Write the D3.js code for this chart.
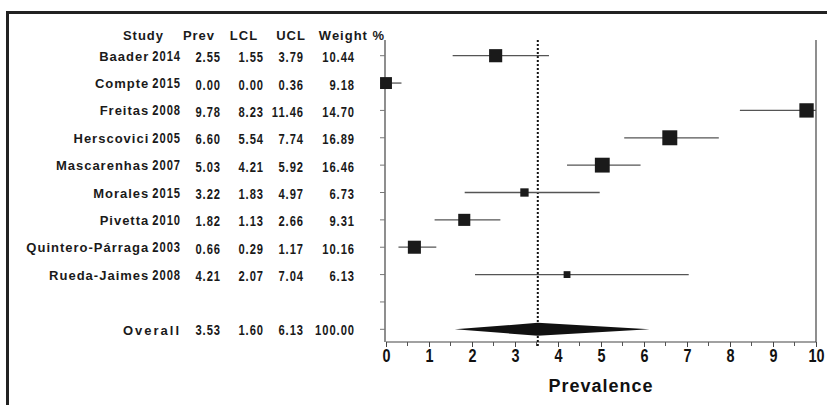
<!DOCTYPE html>
<html>
<head>
<meta charset="utf-8">
<script src="https://cdn.jsdelivr.net/npm/d3@7"></script>
<style>
  body { margin: 0; background: #fff; }
  svg { display: block; }
  .wide { font-family: "Liberation Sans", Arial, sans-serif; font-weight: bold; font-size: 13px; letter-spacing: 1px; fill: #1a1a1a; }
  .narrow { font-family: "Liberation Sans", Arial, sans-serif; font-weight: bold; font-size: 14px; letter-spacing: 1.2px; fill: #1a1a1a; }
</style>
</head>
<body>
<svg id="chart" width="827" height="405"></svg>
<script>
// study table
var studies = ['Baader', 'Compte', 'Freitas', 'Herscovici', 'Mascarenhas', 'Morales', 'Pivetta', 'Quintero-Párraga', 'Rueda-Jaimes'];
var years = ['2014', '2015', '2008', '2005', '2007', '2015', '2010', '2003', '2008'];
var prev = [2.55, 0.00, 9.78, 6.60, 5.03, 3.22, 1.82, 0.66, 4.21];
var lcl = [1.55, 0.00, 8.23, 5.54, 4.21, 1.83, 1.13, 0.29, 2.07];
var ucl = [3.79, 0.36, 11.46, 7.74, 5.92, 4.97, 2.66, 1.17, 7.04];
var weight = [10.44, 9.18, 14.70, 16.89, 16.46, 6.73, 9.31, 10.16, 6.13];
// pooled estimate
var overall = {prev: 3.53, lcl: 1.60, ucl: 6.13, weight: 100.00};
var headers = ['Study', 'Prev', 'LCL', 'UCL', 'Weight %'];
var xTicks = [0, 1, 2, 3, 4, 5, 6, 7, 8, 9, 10];
var xMinorTicks = [0.5, 1.5, 2.5, 3.5, 4.5, 5.5, 6.5, 7.5, 8.5, 9.5];

var svg = d3.select('#chart');
var squeeze = 0.8; // condensed look for the numbers

// outer frame (only top and left are visible)
svg.append('line').attr('x1', 7.5).attr('x2', 827).attr('y1', 12.5).attr('y2', 12.5)
  .style('stroke', '#222').style('stroke-width', 3);
svg.append('line').attr('x1', 7.5).attr('x2', 7.5).attr('y1', 11).attr('y2', 405)
  .style('stroke', '#222').style('stroke-width', 3);

var x = d3.scaleLinear().domain([0, 10]).range([386, 816]);
// 9 studies, one blank row, overall
var rows = d3.range(11);
var y = d3.scalePoint().domain(rows).range([55.7, 329.3]);
var side = d3.scaleLinear().domain([6, 7, 10, 17]).range([6.5, 9, 13, 15]);

var top_y = 40, axis_y = 342;

// plot frame: left axis, right line, bottom axis
svg.append('line').attr('x1', 385).attr('x2', 385).attr('y1', top_y).attr('y2', axis_y)
  .style('stroke', '#444').style('stroke-width', 1.2);
svg.append('line').attr('x1', 816).attr('x2', 816).attr('y1', top_y).attr('y2', axis_y)
  .style('stroke', '#444').style('stroke-width', 1.2);

svg.selectAll('.rowtick').data(rows).enter().append('line').attr('class', 'rowtick')
  .attr('x1', 380).attr('x2', 385)
  .attr('y1', d => y(d)).attr('y2', d => y(d))
  .style('stroke', '#777').style('stroke-width', 1);

var xAxis = svg.append('g').attr('transform', 'translate(0,' + axis_y + ')')
  .call(d3.axisBottom(x).tickValues(xTicks).tickSize(5).tickFormat(d3.format('d')));
xAxis.attr('font-family', null).attr('font-size', null);
xAxis.select('.domain').attr('d', 'M' + x(0) + ',0H' + x(10)).style('stroke', '#444').style('stroke-width', 1.2);
xAxis.selectAll('.tick line').style('stroke', '#444');
xAxis.selectAll('.tick text').attr('class', 'narrow').attr('dy', null).attr('y', 20.5)
  .attr('transform', 'scale(' + squeeze + ',1)')
  .style('font-size', '18px').style('letter-spacing', '0px').style('fill', '#111');

svg.selectAll('.minor').data(xMinorTicks).enter().append('line').attr('class', 'minor')
  .attr('x1', d => x(d)).attr('x2', d => x(d))
  .attr('y1', axis_y).attr('y2', axis_y + 4)
  .style('stroke', '#555').style('stroke-width', 1);

svg.append('text').attr('class', 'wide')
  .attr('x', (x(0) + x(10)) / 2).attr('y', 392)
  .attr('text-anchor', 'middle')
  .style('font-size', '18px').style('letter-spacing', '1px').style('fill', '#111')
  .text('Prevalence');

// dotted line at pooled estimate
svg.append('line')
  .attr('x1', x(overall.prev)).attr('x2', x(overall.prev))
  .attr('y1', top_y).attr('y2', axis_y + 5)
  .style('stroke', '#111').style('stroke-width', 2).style('stroke-dasharray', '2,2');

// confidence intervals
svg.selectAll('.ci').data(prev).enter().append('line').attr('class', 'ci')
  .attr('x1', (d, i) => x(Math.max(0, lcl[i])))
  .attr('x2', (d, i) => x(Math.min(10, ucl[i])))
  .attr('y1', (d, i) => y(i)).attr('y2', (d, i) => y(i))
  .style('stroke', '#555').style('stroke-width', 1.3);

// weighted squares
svg.selectAll('.box').data(prev).enter().append('rect').attr('class', 'box')
  .attr('x', (d, i) => x(d) - side(weight[i]) / 2)
  .attr('y', (d, i) => y(i) - side(weight[i]) / 2)
  .attr('width', (d, i) => side(weight[i]))
  .attr('height', (d, i) => side(weight[i]))
  .style('fill', '#1a1a1a');

// overall diamond
var oy = y(10);
svg.append('path')
  .attr('d', 'M' + x(overall.lcl) + ',' + oy + 'L' + x(overall.prev) + ',' + (oy - 6.5) +
    'L' + x(overall.ucl) + ',' + oy + 'L' + x(overall.prev) + ',' + (oy + 6.5) + 'Z')
  .style('fill', '#111');

// table header
var colX = [164, 199, 244, 291, 352];
svg.selectAll('.hdr').data(headers).enter().append('text').attr('class', 'wide hdr')
  .attr('x', (d, i) => colX[i])
  .attr('y', 40)
  .attr('text-anchor', (d, i) => i == 0 ? 'end' : 'middle')
  .text(d => d);

// condensed number, right aligned at xr
function narrowText(cls, xr, yb, txt) {
  return svg.append('text').attr('class', 'narrow ' + cls)
    .attr('transform', 'translate(' + xr + ',' + yb + ') scale(' + squeeze + ',1)')
    .attr('text-anchor', 'end')
    .text(txt);
}

// study labels: wide name + condensed year
var name_right = 181;
studies.forEach(function(s, i) {
  var yr = narrowText('year', name_right, y(i) + 5, years[i]);
  var w = yr.node().getComputedTextLength() * squeeze;
  svg.append('text').attr('class', 'wide lbl')
    .attr('x', name_right - w - 3).attr('y', y(i) + 5)
    .attr('text-anchor', 'end')
    .text(s);
});

svg.append('text').attr('class', 'wide')
  .attr('x', name_right).attr('y', y(10) + 5.5).attr('text-anchor', 'end')
  .style('letter-spacing', '2px')
  .text('Overall');

// numeric columns
var numCols = [prev, lcl, ucl, weight];
var numRight = [221, 264, 304, 355];
numCols.forEach(function(col, c) {
  col.forEach(function(v, i) {
    narrowText('num', numRight[c], y(i) + 6.5, v.toFixed(2));
  });
});
var ovVals = [overall.prev, overall.lcl, overall.ucl, overall.weight];
ovVals.forEach(function(v, c) {
  narrowText('ov', numRight[c], y(10) + 6, v.toFixed(2));
});
</script>
</body>
</html>
